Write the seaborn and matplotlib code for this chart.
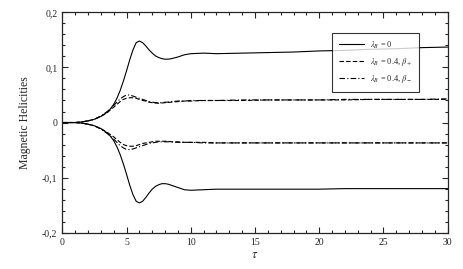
import matplotlib
matplotlib.use("Agg")
import matplotlib.pyplot as plt
from matplotlib.ticker import MultipleLocator, FuncFormatter
import seaborn as sns
import pandas as pd

# tempo (tau) e helicidades
tau = [0, 1, 1.5, 2, 2.5, 3, 3.5, 3.75, 4, 4.25, 4.5, 4.75, 5, 5.25, 5.5, 5.75, 6,
       6.25, 6.5, 6.75, 7, 7.25, 7.5, 7.75, 8, 8.25, 8.5, 9, 9.5, 10,
       11, 12, 14, 16, 18, 20, 22, 24, 26, 28, 30]

solido_sup = [0, 0, 0.001, 0.003, 0.006, 0.011, 0.019, 0.025, 0.033, 0.044, 0.058,
              0.075, 0.094, 0.114, 0.132, 0.145, 0.148, 0.145, 0.139, 0.132, 0.126,
              0.121, 0.118, 0.116, 0.115, 0.115, 0.116, 0.119, 0.123, 0.125,
              0.126, 0.125, 0.126, 0.127, 0.128, 0.130, 0.131, 0.133, 0.134, 0.136, 0.137]
solido_inf = [0, 0, -0.001, -0.003, -0.006, -0.011, -0.019, -0.025, -0.033, -0.044,
              -0.058, -0.075, -0.094, -0.114, -0.131, -0.143, -0.146, -0.143, -0.136,
              -0.128, -0.121, -0.116, -0.113, -0.111, -0.111, -0.112, -0.114, -0.118,
              -0.122, -0.123,
              -0.122, -0.121, -0.121, -0.121, -0.121, -0.121, -0.120, -0.120, -0.120,
              -0.120, -0.120]
trac_sup = [0, 0, 0.001, 0.003, 0.006, 0.011, 0.018, 0.023, 0.028, 0.033, 0.038,
            0.042, 0.044, 0.045, 0.045, 0.044, 0.042, 0.040, 0.039, 0.037, 0.036,
            0.0355, 0.035, 0.0355, 0.036, 0.0365, 0.037, 0.038, 0.039, 0.039,
            0.040, 0.040, 0.040, 0.041, 0.041, 0.041, 0.041, 0.042, 0.042, 0.042, 0.042]
trac_inf = [0, 0, -0.001, -0.003, -0.006, -0.011, -0.018, -0.022, -0.026, -0.031,
            -0.036, -0.040, -0.042, -0.043, -0.043, -0.042, -0.040, -0.038, -0.037,
            -0.036, -0.035, -0.034, -0.034, -0.034, -0.034, -0.034, -0.035, -0.035,
            -0.036, -0.036,
            -0.036, -0.037, -0.037, -0.037, -0.037, -0.037, -0.037, -0.037, -0.037,
            -0.037, -0.037]
pp_sup = [0, 0, 0.001, 0.003, 0.006, 0.012, 0.020, 0.025, 0.031, 0.037, 0.043,
          0.047, 0.050, 0.050, 0.048, 0.046, 0.044, 0.042, 0.040, 0.038, 0.037,
          0.036, 0.036, 0.036, 0.037, 0.037, 0.038, 0.039, 0.039, 0.040,
          0.040, 0.040, 0.041, 0.041, 0.041, 0.041, 0.042, 0.042, 0.042, 0.042, 0.043]
pp_inf = [0, 0, -0.001, -0.003, -0.006, -0.012, -0.020, -0.025, -0.030, -0.036,
          -0.042, -0.046, -0.049, -0.049, -0.048, -0.046, -0.044, -0.042, -0.040,
          -0.038, -0.037, -0.036, -0.035, -0.035, -0.035, -0.035, -0.035, -0.036,
          -0.036, -0.036,
          -0.037, -0.037, -0.037, -0.037, -0.037, -0.037, -0.037, -0.037, -0.037,
          -0.037, -0.037]

rotulos = [r"$\lambda_B$ = 0", r"$\lambda_B$ = 0.4, $\beta_+$", r"$\lambda_B$ = 0.4, $\beta_-$"]

sns.set_style("ticks")
plt.rcParams["font.family"] = ["Liberation Serif", "DejaVu Serif"]
plt.rcParams["mathtext.fontset"] = "stix"

fig = plt.figure(figsize=(4.63, 2.69), dpi=100)
ax = fig.add_axes([0.1346, 0.135, 0.8324, 0.819])

estilos = [
    (solido_sup, solido_inf, "-", rotulos[0]),
    (trac_sup, trac_inf, (0, (4, 2)), rotulos[1]),
    (pp_sup, pp_inf, (0, (5, 2, 1, 2)), rotulos[2]),
]
for sup, inf, ls, rot in estilos:
    df = pd.DataFrame({"tau": tau, "sup": sup, "inf": inf})
    sns.lineplot(data=df, x="tau", y="sup", ax=ax, color="black", lw=0.8,
                 linestyle=ls, label=rot)
    sns.lineplot(data=df, x="tau", y="inf", ax=ax, color="black", lw=0.8,
                 linestyle=ls)

ax.set_xlim(0, 30)
ax.set_ylim(-0.2, 0.2)
ax.xaxis.set_major_locator(MultipleLocator(5))
ax.xaxis.set_minor_locator(MultipleLocator(1))
ax.yaxis.set_major_locator(MultipleLocator(0.1))
ax.yaxis.set_minor_locator(MultipleLocator(0.02))
ax.yaxis.set_major_formatter(FuncFormatter(
    lambda v, p: "0" if abs(v) < 1e-9 else f"{v:.1f}".replace(".", ",")))
ax.tick_params(which="both", direction="in", top=True, right=True,
               labelsize=7, width=0.8)
ax.tick_params(which="major", length=4)
ax.tick_params(which="minor", length=2)
for s in ax.spines.values():
    s.set_linewidth(0.9)

ax.set_xlabel(r"$\tau$", fontsize=9, labelpad=2)
ax.set_ylabel("Magnetic Helicities", fontsize=8.5, labelpad=8)

leg = ax.legend(loc="upper right", bbox_to_anchor=(0.936, 0.925), fontsize=6,
                frameon=True, fancybox=False, edgecolor="black",
                handlelength=3, borderpad=0.75, labelspacing=0.65)
leg.get_frame().set_linewidth(0.8)

fig.savefig("out.png", dpi=100)
plt.close(fig)
